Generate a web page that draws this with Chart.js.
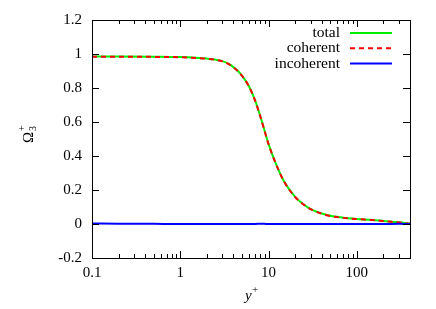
<!DOCTYPE html>
<html>
<head>
<meta charset="utf-8">
<script src="https://cdn.jsdelivr.net/npm/chart.js@4/dist/chart.umd.min.js"></script>
<style>
  html, body { margin: 0; padding: 0; background: #fff; }
  #wrap { width: 436px; height: 309px; }
</style>
</head>
<body>
<div id="wrap"><canvas id="chart" width="436" height="309"></canvas></div>
<script>
// values
const yPlus = [0.1, 0.2, 0.5, 1, 1.5, 2, 2.5, 3, 3.5, 4, 4.5, 5, 6, 7, 8, 9, 10, 12, 15, 20, 25, 30, 40, 50, 70, 100, 150, 200, 300, 400];
const total = [0.985, 0.985, 0.984, 0.982, 0.978, 0.973, 0.967, 0.958, 0.943, 0.923, 0.90, 0.873, 0.81, 0.73, 0.64, 0.55, 0.47, 0.36, 0.25, 0.16, 0.115, 0.088, 0.062, 0.048, 0.037, 0.030, 0.024, 0.018, 0.010, 0.002];
const coherent = [0.984, 0.984, 0.983, 0.981, 0.977, 0.972, 0.966, 0.957, 0.942, 0.922, 0.899, 0.872, 0.809, 0.729, 0.639, 0.549, 0.469, 0.359, 0.249, 0.159, 0.114, 0.087, 0.061, 0.047, 0.036, 0.029, 0.023, 0.017, 0.009, 0.001];
const incoherent = [0.003, 0.002, 0.001, 0, 0, 0, 0, 0, 0, 0, 0, 0, 0, 0, 0.002, 0.001, 0, 0, 0, 0, 0, 0, 0, 0, 0, 0, 0, 0, 0.001, 0];
const seriesNames = ['total', 'coherent', 'incoherent'];
const xMajor = [0.1, 1, 10, 100];
const yTicks = [-0.2, 0, 0.2, 0.4, 0.6, 0.8, 1, 1.2];

const FONT = 'Liberation Serif';

const toPts = (vals) => yPlus.map((x, i) => ({ x: x, y: vals[i] }));

// frame, inside ticks, legend and axis titles in gnuplot style
const gnuplotBits = {
  id: 'gnuplotBits',
  afterDraw(chart) {
    const { ctx, chartArea: a, scales } = chart;
    const xs = scales.x, ys = scales.y;
    ctx.save();
    ctx.strokeStyle = '#000';
    ctx.lineWidth = 1;
    ctx.strokeRect(a.left + 0.5, a.top + 0.5, a.right - a.left, a.bottom - a.top);

    ctx.beginPath();
    for (let d = 0.1; d < 1000; d *= 10) {
      for (let k = 1; k <= 9; k++) {
        const v = d * k;
        if (v < 0.1 || v > 400) continue;
        const px = Math.round(xs.getPixelForValue(v)) + 0.5;
        const len = k === 1 ? 7 : 4;
        ctx.moveTo(px, a.bottom); ctx.lineTo(px, a.bottom - len);
        ctx.moveTo(px, a.top); ctx.lineTo(px, a.top + len);
      }
    }
    yTicks.forEach((v) => {
      const py = Math.round(ys.getPixelForValue(v)) + 0.5;
      ctx.moveTo(a.left, py); ctx.lineTo(a.left + 7, py);
      ctx.moveTo(a.right, py); ctx.lineTo(a.right - 7, py);
    });
    ctx.stroke();

    // legend
    const ds = chart.data.datasets;
    ctx.font = '15.5px "Liberation Serif"';
    ctx.fillStyle = '#000';
    ctx.textAlign = 'right';
    ctx.textBaseline = 'middle';
    ds.forEach((d, i) => {
      const y = 33 + i * 15.3;
      ctx.fillText(seriesNames[i], 340, y);
      ctx.strokeStyle = d.borderColor;
      ctx.lineWidth = 2;
      ctx.setLineDash(d.borderDash || []);
      ctx.beginPath();
      ctx.moveTo(350, y); ctx.lineTo(392, y);
      ctx.stroke();
      ctx.setLineDash([]);
    });

    // axis titles
    ctx.fillStyle = '#000';
    ctx.textAlign = 'left';
    ctx.textBaseline = 'alphabetic';
    ctx.font = 'italic 15px "Liberation Serif"';
    ctx.fillText('y', 245, 300);
    ctx.font = '11px "Liberation Serif"';
    ctx.fillText('+', 252, 293);

    ctx.translate(33, 143);
    ctx.rotate(-Math.PI / 2);
    ctx.font = '15px "Liberation Serif"';
    ctx.fillText('Ω', 0, 0);
    ctx.font = '10px "Liberation Serif"';
    ctx.fillText('3', 12, 3);
    ctx.fillText('+', 12, -8);
    ctx.restore();
  }
};

new Chart(document.getElementById('chart'), {
  type: 'line',
  data: {
    datasets: [
      { label: 'total', order: 2, data: toPts(total), borderColor: '#00ee00', borderWidth: 2, pointRadius: 0, cubicInterpolationMode: 'monotone' },
      { label: 'coherent', order: 1, data: toPts(coherent), borderColor: '#ff0000', borderWidth: 2, borderDash: [5, 4], pointRadius: 0, cubicInterpolationMode: 'monotone' },
      { label: 'incoherent', order: 0, data: toPts(incoherent), borderColor: '#0000ff', borderWidth: 2, pointRadius: 0, cubicInterpolationMode: 'monotone' },
    ],
  },
  options: {
    responsive: false,
    animation: false,
    layout: { padding: { top: 20, right: 26, left: 0, bottom: 0 } },
    plugins: { legend: { display: false }, tooltip: { enabled: false } },
    scales: {
      x: {
        type: 'logarithmic',
        min: 0.1,
        max: 400,
        afterBuildTicks: (s) => { s.ticks = xMajor.map((v) => ({ value: v })); },
        afterFit: (s) => { s.height = 51; },
        grid: { display: false, drawTicks: false },
        border: { display: false },
        ticks: {
          color: '#000',
          padding: 6,
          maxRotation: 0,
          autoSkip: false,
          font: { family: FONT, size: 15 },
          callback: (v) => String(v),
        },
      },
      y: {
        min: -0.2,
        max: 1.2,
        afterBuildTicks: (s) => { s.ticks = yTicks.map((v) => ({ value: v })); },
        afterFit: (s) => { s.width = 92; },
        grid: { display: false, drawTicks: false },
        border: { display: false },
        ticks: {
          color: '#000',
          padding: 10,
          font: { family: FONT, size: 15 },
          callback: (v) => String(Number(v.toFixed(1))),
        },
      },
    },
  },
  plugins: [gnuplotBits],
});
</script>
</body>
</html>
